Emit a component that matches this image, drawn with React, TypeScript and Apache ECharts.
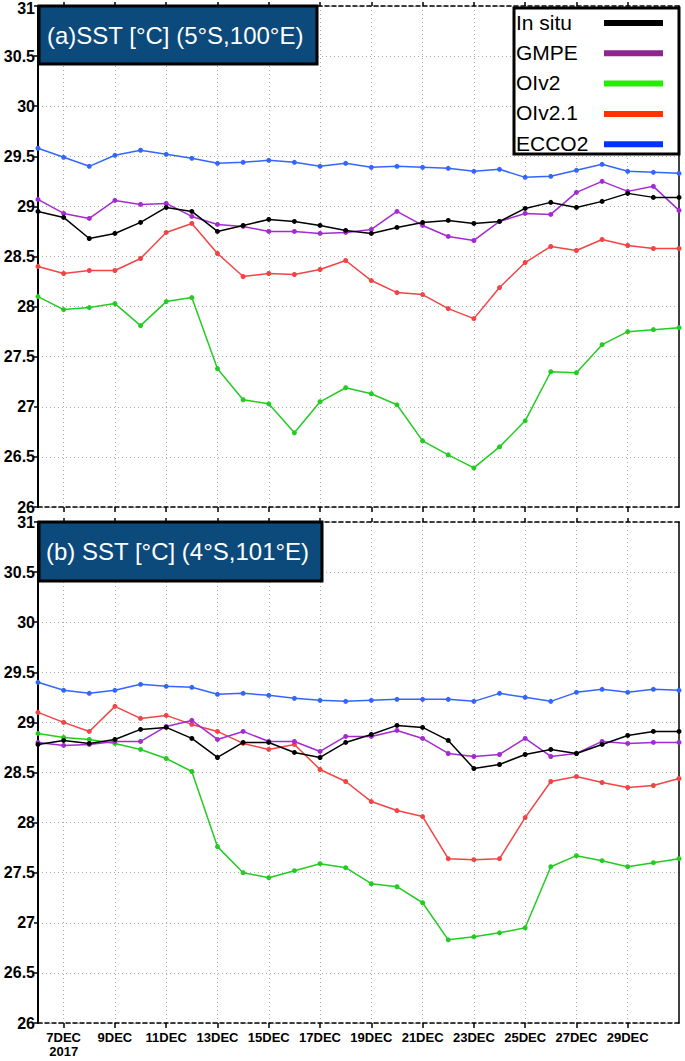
import React, { useEffect, useRef } from "react";
import * as echarts from "echarts";

const categories = [
  "6DEC", "7DEC", "8DEC", "9DEC", "10DEC", "11DEC", "12DEC", "13DEC", "14DEC", "15DEC",
  "16DEC", "17DEC", "18DEC", "19DEC", "20DEC", "21DEC", "22DEC", "23DEC", "24DEC", "25DEC",
  "26DEC", "27DEC", "28DEC", "29DEC", "30DEC", "31DEC",
];
const yearLabel = "2017";
const seriesNames = ["In situ", "GMPE", "OIv2", "OIv2.1", "ECCO2"];

// Panel (a) 5°S,100°E
const insituA = [28.95, 28.89, 28.68, 28.73, 28.84, 28.99, 28.95, 28.75, 28.81, 28.87, 28.85, 28.81, 28.76, 28.73, 28.79, 28.84, 28.86, 28.83, 28.85, 28.98, 29.04, 28.99, 29.05, 29.13, 29.09, 29.09];
const gmpeA = [29.07, 28.93, 28.88, 29.06, 29.02, 29.03, 28.9, 28.82, 28.8, 28.75, 28.75, 28.73, 28.74, 28.77, 28.95, 28.81, 28.7, 28.66, 28.85, 28.93, 28.92, 29.14, 29.25, 29.15, 29.2, 28.96];
const oiv2A = [28.1, 27.97, 27.99, 28.03, 27.81, 28.05, 28.09, 27.38, 27.07, 27.03, 26.74, 27.05, 27.19, 27.13, 27.02, 26.66, 26.52, 26.39, 26.6, 26.86, 27.35, 27.34, 27.62, 27.75, 27.77, 27.79];
const oiv21A = [28.4, 28.33, 28.36, 28.36, 28.48, 28.74, 28.83, 28.53, 28.3, 28.33, 28.32, 28.37, 28.46, 28.26, 28.14, 28.12, 27.98, 27.88, 28.19, 28.44, 28.6, 28.56, 28.67, 28.61, 28.58, 28.58];
const eccoA = [29.58, 29.49, 29.4, 29.51, 29.56, 29.52, 29.48, 29.43, 29.44, 29.46, 29.44, 29.4, 29.43, 29.39, 29.4, 29.39, 29.38, 29.35, 29.37, 29.29, 29.3, 29.36, 29.42, 29.35, 29.34, 29.33];

// Panel (b) 4°S,101°E
const insituB = [28.78, 28.82, 28.79, 28.83, 28.93, 28.95, 28.84, 28.65, 28.8, 28.8, 28.7, 28.65, 28.8, 28.88, 28.97, 28.95, 28.82, 28.54, 28.58, 28.68, 28.73, 28.69, 28.78, 28.87, 28.91, 28.91];
const gmpeB = [28.8, 28.77, 28.78, 28.81, 28.81, 28.96, 29.02, 28.83, 28.91, 28.81, 28.81, 28.71, 28.86, 28.86, 28.92, 28.84, 28.69, 28.66, 28.68, 28.84, 28.66, 28.69, 28.81, 28.79, 28.8, 28.8];
const oiv2B = [28.89, 28.85, 28.83, 28.79, 28.73, 28.64, 28.51, 27.76, 27.5, 27.45, 27.52, 27.59, 27.55, 27.39, 27.36, 27.2, 26.83, 26.86, 26.9, 26.95, 27.56, 27.67, 27.62, 27.56, 27.6, 27.64];
const oiv21B = [29.1, 29.0, 28.91, 29.16, 29.04, 29.07, 28.98, 28.91, 28.79, 28.73, 28.78, 28.53, 28.41, 28.21, 28.12, 28.06, 27.64, 27.63, 27.64, 28.05, 28.41, 28.46, 28.4, 28.35, 28.37, 28.44];
const eccoB = [29.4, 29.32, 29.29, 29.32, 29.38, 29.36, 29.35, 29.28, 29.29, 29.27, 29.24, 29.22, 29.21, 29.22, 29.23, 29.23, 29.23, 29.21, 29.29, 29.25, 29.21, 29.3, 29.33, 29.3, 29.33, 29.32];

const titleA = "(a)SST [°C] (5°S,100°E)";
const titleB = "(b) SST [°C] (4°S,101°E)";

const lineColors = ["#000000", "#a42ad2", "#22cc22", "#f24444", "#3366ff"];
const legendColors = ["#000000", "#8e2590", "#22ee00", "#ff3300", "#0033ff"];

const FONT = '"Liberation Sans", Arial, sans-serif';

export default function App() {
  const ref = useRef<HTMLDivElement>(null);
  useEffect(() => {
    if (!ref.current) return;
    const chart = echarts.init(ref.current, undefined, { renderer: "svg" });
    const labelIdx = (i: number) => i % 2 === 1 && i < categories.length - 1;

    const bottomX = (grid: number, showLabels: boolean) => ({
      type: "category",
      gridIndex: grid,
      data: categories,
      boundaryGap: false,
      position: "bottom",
      axisLine: { show: true, lineStyle: { color: "#000", type: [4, 3], width: 1.5 } },
      axisTick: { show: true, interval: labelIdx, length: 5, lineStyle: { color: "#000", width: 1.5 } },
      axisLabel: {
        show: showLabels,
        interval: labelIdx,
        formatter: (v: string, i: number) => (i === 1 ? v + "\n" + yearLabel : v),
        fontSize: 13,
        fontWeight: "bold",
        fontFamily: FONT,
        lineHeight: 14,
        color: "#000",
        margin: 7,
      },
      splitLine: { show: true, interval: labelIdx, lineStyle: { color: "#aaa", type: [1, 3], width: 1 } },
    });
    const topX = (grid: number) => ({
      type: "category",
      gridIndex: grid,
      data: categories,
      boundaryGap: false,
      position: "top",
      axisLine: { show: true, lineStyle: { color: "#000", type: [4, 3], width: 1.5 } },
      axisTick: { show: true, interval: labelIdx, length: 4, lineStyle: { color: "#000", width: 1.5 } },
      axisLabel: { show: false },
      splitLine: { show: false },
    });
    const leftY = (grid: number) => ({
      type: "value",
      gridIndex: grid,
      min: 26,
      max: 31,
      interval: 0.5,
      position: "left",
      axisLine: { show: true, lineStyle: { color: "#000", width: 2 } },
      axisTick: { show: true, length: 4, lineStyle: { color: "#000", width: 1.5 } },
      axisLabel: {
        fontSize: 16,
        lineHeight: 12,
        fontWeight: "bold",
        fontFamily: FONT,
        color: "#000",
        margin: 3,
        formatter: (v: number) => (grid === 0 && v === 31 ? "{t|" + v + "}" : String(v)),
        rich: {
          t: {
            fontSize: 16,
            lineHeight: 12,
            fontWeight: "bold",
            fontFamily: FONT,
            color: "#000",
            padding: [5, 0, 0, 0],
          },
        },
      },
      splitLine: { show: true, lineStyle: { color: "#aaa", type: [1, 3], width: 1 } },
    });
    const rightY = (grid: number) => ({
      type: "value",
      gridIndex: grid,
      min: 26,
      max: 31,
      interval: 0.5,
      position: "right",
      axisLine: { show: true, lineStyle: { color: "#000", width: 1.5 } },
      axisTick: { show: false },
      axisLabel: { show: false },
      splitLine: { show: false },
    });

    const panelData = [
      [insituA, gmpeA, oiv2A, oiv21A, eccoA],
      [insituB, gmpeB, oiv2B, oiv21B, eccoB],
    ];
    const series: any[] = [];
    panelData.forEach((arrs, p) => {
      for (let k = arrs.length - 1; k >= 0; k--) {
        series.push({
          type: "line",
          name: seriesNames[k],
          xAxisIndex: p,
          yAxisIndex: p,
          data: arrs[k],
          symbol: "circle",
          symbolSize: 5,
          showSymbol: true,
          lineStyle: { color: lineColors[k], width: 1.5 },
          itemStyle: { color: lineColors[k] },
          z: 2 + (arrs.length - k),
        });
      }
    });

    const titleBox = (x: number, y: number, w: number, h: number, text: string, tx: number) => [
      {
        type: "rect",
        z: 100,
        shape: { x, y, width: w, height: h },
        style: { fill: "#0b4a7b", stroke: "#000", lineWidth: 3 },
      },
      {
        type: "text",
        z: 101,
        style: {
          text,
          x: tx,
          y: y + h / 2,
          fill: "#fff",
          fontSize: 24,
          fontFamily: FONT,
          verticalAlign: "middle",
          align: "left",
        },
      },
    ];

    const legendEls: any[] = [
      {
        type: "rect",
        z: 100,
        shape: { x: 514, y: 8, width: 165, height: 146 },
        style: { fill: "#fff", stroke: "#000", lineWidth: 3 },
      },
    ];
    seriesNames.forEach((n, k) => {
      const cy = 22 + k * 30.3;
      legendEls.push({
        type: "text",
        z: 101,
        style: { text: n, x: 516, y: cy, fill: "#000", fontSize: 21, fontFamily: FONT, verticalAlign: "middle" },
      });
      legendEls.push({
        type: "line",
        z: 101,
        shape: { x1: 604, y1: cy + 1, x2: 663, y2: cy + 1 },
        style: { stroke: legendColors[k], lineWidth: 6 },
      });
    });

    chart.setOption({
      animation: false,
      backgroundColor: "#fff",
      grid: [
        { left: 38, top: 6, width: 641, height: 501, outerBoundsMode: "none", containLabel: false },
        { left: 38, top: 522, width: 641, height: 501, outerBoundsMode: "none", containLabel: false },
      ],
      xAxis: [bottomX(0, false), bottomX(1, true), topX(0), topX(1)],
      yAxis: [leftY(0), leftY(1), rightY(0), rightY(1)],
      series,
      graphic: [
        ...titleBox(39, 6, 278, 58, titleA, 47),
        ...titleBox(39, 522, 283, 59, titleB, 46),
        ...legendEls,
      ],
    });
    return () => chart.dispose();
  }, []);
  return (
    <div
      ref={ref}
      style={{ position: "fixed", left: 0, top: 0, width: 685, height: 1061, background: "#fff" }}
    />
  );
}
